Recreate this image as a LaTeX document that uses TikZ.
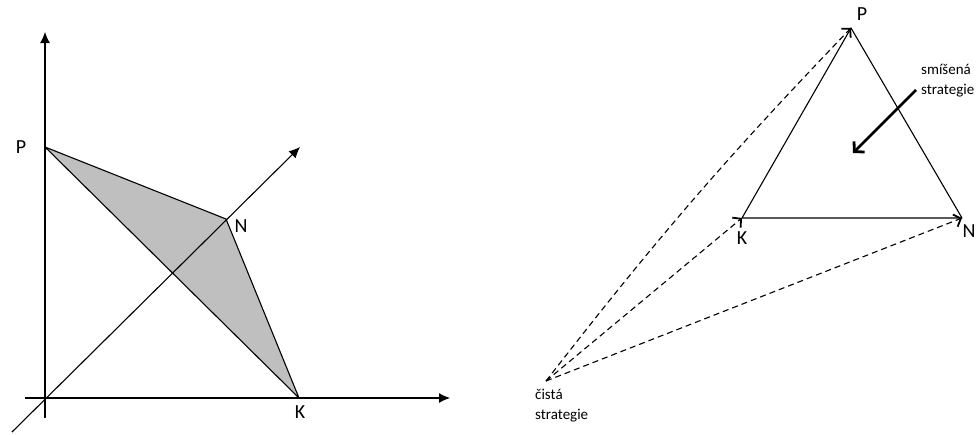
\documentclass[tikz,border=0pt]{standalone}
\usepackage{fontspec}
\setmainfont{Carlito}
\usetikzlibrary{arrows.meta}
\tikzset{
    axisarrow/.style={
        line width=1.1pt,
        black,
        -{Latex[length=11pt, width=10pt]}
    },
    % dashed lines from the pure strategy
    dasharrow/.style={
        line width=1.1pt,
        dashed,
        dash pattern=on 6pt off 4pt,
        -{Straight Barb[length=6pt, width=13pt, line width=1.8pt]}
    },
    thickarrow/.style={
        line width=2.8pt,
        -{Straight Barb[length=7pt, width=15pt, line width=2.8pt]}
    },
    edgeline/.style={line width=1.1pt, line join=round},
    biglabel/.style={font=\fontsize{20}{22}\selectfont, inner sep=0pt},
    smalltext/.style={font=\fontsize{15}{20}\selectfont, align=left, inner sep=0pt}
}

\begin{document}
\begin{tikzpicture}[x=1pt,y=-1pt]
\useasboundingbox (0,0) rectangle (977,434);

% ===================== left: payoff space =====================
\path
    (45,398) coordinate (o)
    (45,147) coordinate (p1)
    (226,219) coordinate (n1)
    (299,398) coordinate (k1)
    (45,32) coordinate (ytop)
    (45,418) coordinate (ybot)
    (450,398) coordinate (xtop)
    (25,398) coordinate (xbot)
    (300,147) coordinate (ztop)
    (12,432) coordinate (zbot)
    ;
\fill[gray!50] (p1) -- (n1) -- (k1) -- cycle;
\draw[edgeline] (p1) -- (n1) -- (k1) -- cycle;

\draw[axisarrow] (ybot) -- (ytop);
\draw[axisarrow] (xbot) -- (xtop);
\draw[axisarrow] (zbot) -- (ztop);

\node[biglabel] (lp1) at (21,147) {P};
\node[biglabel] (ln1) at (241,226) {N};
\node[biglabel] (lk1) at (300,412) {K};

% ===================== right: simplex =====================
\path
    (851,28) coordinate (p2)
    (742,218) coordinate (k2)
    (962,218) coordinate (n2)
    (546,381) coordinate (pure)
    (916,90) coordinate (mixstart)
    (853,153) coordinate (mixend)
    ;
\draw[edgeline] (k2) -- (p2) -- (n2) -- cycle;

\draw[dasharrow,bend left=3] (pure) to (p2);
\draw[dasharrow] (pure) -- (k2);
\draw[dasharrow] (pure) -- (n2);

\draw[thickarrow] (mixstart) -- (mixend);

\node[biglabel] (lp2) at (862,14) {P};
\node[biglabel] (lk2) at (742,238) {K};
\node[biglabel] (ln2) at (969,231) {N};

\node[smalltext,anchor=north west] (mixed) at (921,64) {smíšená\\strategie};
\node[smalltext,anchor=north west] (pures) at (535,389) {čistá\\strategie};

\end{tikzpicture}
\end{document}
